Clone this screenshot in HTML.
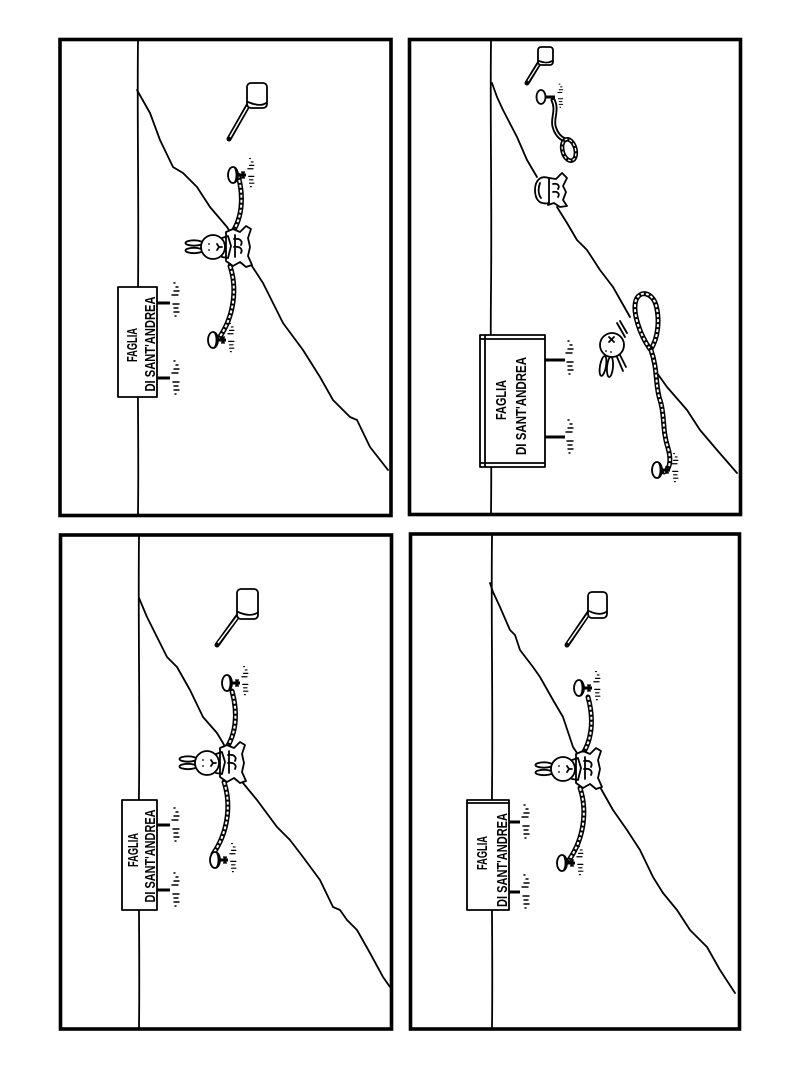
<!DOCTYPE html>
<html><head><meta charset="utf-8">
<style>
html,body{margin:0;padding:0;background:#fff;}
svg{display:block;}
.ln{fill:none;stroke:#000;stroke-width:1.8;stroke-linejoin:round;stroke-linecap:round;}
.bd{fill:none;stroke:#000;stroke-width:3.6;}
.ro{fill:none;stroke:#000;stroke-width:5;stroke-linecap:round;}
.ri{fill:none;stroke:#fff;stroke-width:2;stroke-dasharray:3 2;}
.wf{fill:#fff;stroke:#000;stroke-width:1.8;stroke-linejoin:round;}
.gr{fill:none;stroke:#000;stroke-width:1.4;stroke-linecap:round;}
.tx{font-family:"Liberation Sans",sans-serif;font-size:15px;fill:#000;font-weight:bold;}
</style></head>
<body>
<svg width="800" height="1066" viewBox="0 0 800 1066" xmlns="http://www.w3.org/2000/svg">
<defs>
  <g id="grass">
    <path class="gr" d="M0,-13 h-2 M1,-9 h-5 M0,-5 h-6 M1,4 h-6 M0,8 h-4 M1,12 h-5 M-2,16 h-1 M-3,-17 h-1"/>
  </g>
  <g id="stake">
    <path d="M4,-1.5 L13,-1.5 L13,1.5 L4,1.5 Z" fill="#000"/>
    <ellipse cx="0" cy="0" rx="5" ry="8" class="wf" stroke-width="2"/>
    <path class="ln" d="M2,-7 C4,-3 4,3 2,7" stroke-width="1.2"/>
    <path class="ln" d="M9,-3 L11,3 M11,-3 L9,3" stroke-width="1.2"/>
    <use href="#grass" transform="translate(20,-2) scale(0.85)"/>
  </g>
  <g id="bun">
    <path class="ro" d="M25,-72 C31,-50 30,-26 15,-9"/>
    <path class="ri" d="M25,-72 C31,-50 30,-26 15,-9"/>
    <path class="ro" d="M17,19 C24,40 22,68 6,91"/>
    <path class="ri" d="M17,19 C24,40 22,68 6,91"/>
    <path class="wf" stroke-width="2" d="M13,-15 L20,-18 L27,-15 L33,-21 L38,-18 L35,-9 L37,0 L35,9 L39,18 L33,20 L27,15 L20,19 L13,14 Z"/>
    <path class="ln" stroke-width="1.3" d="M21,-8 C27,-9 30,-6 28,-2 M21,0 C27,-1 30,2 28,6 M22,-12 L22,10"/>
    <ellipse cx="-19" cy="-4" rx="8.5" ry="2.7" class="wf" stroke-width="1.5"/>
    <ellipse cx="-19" cy="3.5" rx="8.5" ry="2.7" class="wf" stroke-width="1.5"/>
    <circle cx="0" cy="0" r="12" class="wf" stroke-width="2"/>
    <path class="ln" stroke-width="2.6" d="M9,-9 L15,-11 L18,-1 L15,11 L9,10"/>
    <circle cx="-4" cy="-3" r="0.9"/>
    <circle cx="-4" cy="3" r="0.9"/>
    <path class="ln" stroke-width="1" d="M4,-3 L6,0 L4,3 M6,0 L9,0"/>
  </g>
</defs>

<!-- ================= TOP-LEFT ================= -->
<rect class="bd" x="60" y="39.5" width="331" height="476"/>
<path class="ln" d="M138,41 C137,120 139,200 138,290 C137,380 139,440 138,514"/>
<path class="ln" d="M137,90 L150,113 L160,140 L173,167 L183,173 L197,187 L210,207 L227,227 L237,243 L250,263 L263,283 L283,323 L303,350 L320,377 L333,400 L350,417 L357,420 L370,447 L388,470"/>
<rect class="wf" stroke-width="2" x="118" y="287" width="39" height="110"/>
<path d="M157,301.5 L170,301.5 L170,304.5 L157,304.5Z M157,376.5 L170,376.5 L170,379.5 L157,379.5Z" fill="#000"/>
<use href="#grass" transform="translate(178,300)"/>
<use href="#grass" transform="translate(178,378)"/>
<text class="tx" transform="translate(137,345) rotate(-90)" text-anchor="middle" textLength="34" lengthAdjust="spacingAndGlyphs">FAGLIA</text>
<text class="tx" transform="translate(155,344) rotate(-90)" text-anchor="middle" textLength="95" lengthAdjust="spacingAndGlyphs">DI SANT'ANDREA</text>
<path class="ro" stroke-width="4" d="M250,102 L229,139"/>
<path stroke="#fff" stroke-width="1.5" d="M249,104 L230,137"/>
<rect class="wf" stroke-width="2" x="247" y="83" width="20" height="25" rx="4"/>
<path class="ln" d="M248,102 C255,105 262,106 266,103"/>
<use href="#bun" transform="translate(213,247)"/>
<use href="#stake" transform="translate(233,175)"/>
<use href="#stake" transform="translate(213,340)"/>

<!-- ================= TOP-RIGHT ================= -->
<rect class="bd" x="409.5" y="39.5" width="331" height="475"/>
<path class="ln" d="M491,41 C490,120 492,200 491,290 C490,380 492,440 491,513"/>
<path class="ln" d="M492,83 L497,97 L503,110 L517,137 L527,160 L537,177"/>
<path class="ln" d="M557,207 L567,223 L577,240 L587,250 L600,270 L613,287 L630,317"/>
<path class="ln" d="M657,373 L667,387 L687,410 L700,430 L717,450 L737,473"/>
<rect class="wf" stroke-width="2" x="480" y="335" width="65" height="132"/>
<path class="ln" stroke-width="1.2" d="M485,336 L485,466 M481,339 L544,339 M481,463 L544,463"/>
<path d="M545,358.5 L565,358.5 L565,361.5 L545,361.5Z M545,435.5 L565,435.5 L565,438.5 L545,438.5Z" fill="#000"/>
<use href="#grass" transform="translate(572,358)"/>
<use href="#grass" transform="translate(572,437)"/>
<text class="tx" transform="translate(506,400) rotate(-90)" text-anchor="middle" textLength="40" lengthAdjust="spacingAndGlyphs">FAGLIA</text>
<text class="tx" transform="translate(526,406) rotate(-90)" text-anchor="middle" textLength="98" lengthAdjust="spacingAndGlyphs">DI SANT'ANDREA</text>
<path class="ro" stroke-width="3.5" d="M541,60 L527,83"/>
<path stroke="#fff" stroke-width="1.2" d="M540,62 L528,81"/>
<rect class="wf" stroke-width="1.8" x="538" y="47" width="15" height="18" rx="3"/>
<path class="ln" stroke-width="1.3" d="M539,61 C544,63 549,63 552,61"/>
<path d="M545,95.5 L555,95.5 L555,98.5 L545,98.5Z" fill="#000"/>
<ellipse cx="541" cy="97" rx="4.5" ry="7" class="wf" stroke-width="2"/>
<use href="#grass" transform="translate(562,96) scale(0.7)"/>
<path class="ro" stroke-width="4" d="M553,100 C558,110 552,118 554,126 C556,134 560,138 565,140"/>
<path stroke="#fff" fill="none" stroke-width="1.3" d="M553,100 C558,110 552,118 554,126 C556,134 560,138 565,140"/>
<ellipse cx="569" cy="150" rx="6.5" ry="11" fill="none" stroke="#000" stroke-width="4.5" transform="rotate(-15 569 150)"/>
<ellipse cx="569" cy="150" rx="6.5" ry="11" fill="none" stroke="#fff" stroke-width="1.3" stroke-dasharray="3 2" transform="rotate(-15 569 150)"/>
<path class="wf" stroke-width="2" d="M549,178 L556,179 L562,173 L567,178 L563,186 L566,192 L563,200 L567,206 L560,207 L554,203 L548,205 Z"/>
<path class="wf" stroke-width="2" d="M549,178 C540,175 535,181 535,190 C535,200 540,205 549,203 Z"/>
<path class="ln" stroke-width="1.3" d="M553,184 C558,183 560,186 558,189 M553,192 C558,191 560,194 558,197 M540,183 C538,188 538,194 541,198"/>
<path class="ln" stroke-width="1.1" d="M617,323 L625,337 M620,321 L627,333 M617,357 L623,371 M620,355 L626,367"/>
<ellipse cx="603" cy="366" rx="3" ry="10" class="wf" stroke-width="1.5" transform="rotate(10 603 366)"/>
<ellipse cx="610" cy="367" rx="3" ry="10" class="wf" stroke-width="1.5" transform="rotate(5 610 367)"/>
<circle cx="612" cy="345" r="12" class="wf" stroke-width="2"/>
<path class="ln" stroke-width="1.2" d="M609,337 L614,342 M614,337 L609,342"/>
<circle cx="606" cy="351" r="0.9"/>
<circle cx="611" cy="352" r="0.9"/>
<path class="ro" d="M650,349 C640,335 632,312 636,300 C640,290 652,292 656,305 C660,320 658,338 651,349"/>
<path class="ri" d="M650,349 C640,335 632,312 636,300 C640,290 652,292 656,305 C660,320 658,338 651,349"/>
<path class="ro" d="M651,350 C658,370 655,385 660,400 C665,415 662,430 668,448 C672,462 669,470 664,472"/>
<path class="ri" d="M651,350 C658,370 655,385 660,400 C665,415 662,430 668,448 C672,462 669,470 664,472"/>
<use href="#stake" transform="translate(657,470)"/>

<!-- ================= BOTTOM-LEFT ================= -->
<rect class="bd" x="60.5" y="535" width="331" height="494"/>
<path class="ln" d="M139,537 C138,620 140,700 139,790 C138,880 140,950 139,1028"/>
<path class="ln" d="M139,598 L147,617 L160,643 L167,657 L177,667 L190,690 L203,717 L217,733 L223,743 L233,762 L243,783 L257,800 L277,827 L290,840 L303,857 L320,880 L333,907 L340,910 L347,920 L357,930 L370,953 L383,977 L390,987"/>
<rect class="wf" stroke-width="2" x="122" y="800" width="35" height="110"/>
<path d="M157,823.5 L170,823.5 L170,826.5 L157,826.5Z M157,888.5 L170,888.5 L170,891.5 L157,891.5Z" fill="#000"/>
<use href="#grass" transform="translate(178,825)"/>
<use href="#grass" transform="translate(178,890)"/>
<text class="tx" transform="translate(138,850) rotate(-90)" text-anchor="middle" textLength="34" lengthAdjust="spacingAndGlyphs">FAGLIA</text>
<text class="tx" transform="translate(155,856) rotate(-90)" text-anchor="middle" textLength="93" lengthAdjust="spacingAndGlyphs">DI SANT'ANDREA</text>
<path class="ro" stroke-width="4" d="M240,613 L217,645"/>
<path stroke="#fff" stroke-width="1.5" d="M239,615 L218,643"/>
<rect class="wf" stroke-width="2" x="237" y="589" width="21" height="30" rx="4"/>
<path class="ln" d="M238,612 C245,615 252,616 257,613"/>
<use href="#bun" transform="translate(207,763)"/>
<use href="#stake" transform="translate(227,683)"/>
<use href="#stake" transform="translate(215,860)"/>

<!-- ================= BOTTOM-RIGHT ================= -->
<rect class="bd" x="410.5" y="534" width="329" height="495"/>
<path class="ln" d="M492,536 C491,620 493,700 492,790 C491,880 493,950 492,1028"/>
<path class="ln" d="M490,583 L493,592 L500,607 L510,630 L515,635 L520,650 L533,667 L540,677 L553,700 L563,717 L573,747 L587,768 L600,787 L613,810 L627,830 L640,850 L653,877 L663,893 L677,910 L690,930 L700,940 L707,947 L720,970 L735,993"/>
<rect class="wf" stroke-width="2" x="467" y="800" width="42" height="110"/>
<path class="ln" stroke-width="1.2" d="M468,803 L508,803"/>
<path d="M509,820.5 L520,820.5 L520,823.5 L509,823.5Z M509,890.5 L520,890.5 L520,893.5 L509,893.5Z" fill="#000"/>
<use href="#grass" transform="translate(528,822)"/>
<use href="#grass" transform="translate(528,892)"/>
<text class="tx" transform="translate(487,853) rotate(-90)" text-anchor="middle" textLength="34" lengthAdjust="spacingAndGlyphs">FAGLIA</text>
<text class="tx" transform="translate(507,860) rotate(-90)" text-anchor="middle" textLength="94" lengthAdjust="spacingAndGlyphs">DI SANT'ANDREA</text>
<path class="ro" stroke-width="4" d="M590,611 L567,645"/>
<path stroke="#fff" stroke-width="1.5" d="M589,613 L568,643"/>
<rect class="wf" stroke-width="2" x="588" y="592" width="19" height="26" rx="4"/>
<path class="ln" d="M589,611 C595,614 601,615 606,612"/>
<use href="#bun" transform="translate(563,769)"/>
<use href="#stake" transform="translate(579,688)"/>
<use href="#stake" transform="translate(562,863)"/>
</svg>
</body></html>
